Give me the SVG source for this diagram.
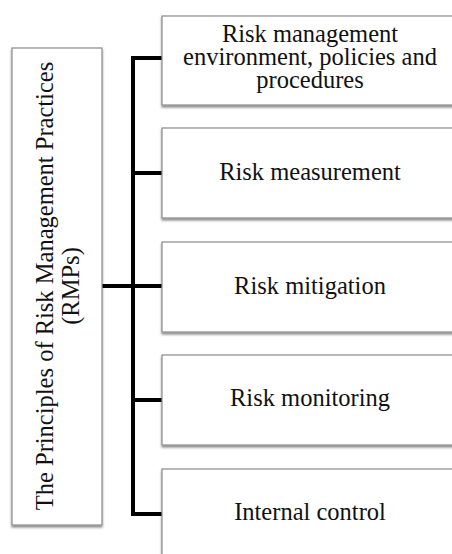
<svg xmlns="http://www.w3.org/2000/svg" width="452" height="554" viewBox="0 0 452 554">
<defs>
<filter id="sh" x="-10%" y="-10%" width="120%" height="130%">
<feDropShadow dx="0" dy="2" stdDeviation="1.3" flood-color="#000" flood-opacity="0.45"/>
</filter>
<style>
.box{fill:#fff;stroke:#8a8a8a;stroke-width:1.2;filter:url(#sh)}
.t{font-family:"Liberation Serif","Times New Roman",serif;font-size:24.5px;fill:#111;text-anchor:middle}
.c{fill:none;stroke:#000;stroke-width:4;stroke-linecap:square;stroke-linejoin:miter}
</style>
</defs>
<rect width="452" height="554" fill="#fff"/>
<g id="connectors">
<path class="c" d="M162,58 H133 V514 H162"/>
<path class="c" d="M133,173 H162"/>
<path class="c" d="M133,400 H162"/>
<path class="c" d="M103,286 H162"/>
</g>
<g id="root">
<rect class="box" x="12" y="48" width="90" height="477"/>
<text class="t" transform="translate(57,286) rotate(-90)"><tspan x="0" y="-4">The Principles of Risk Management Practices</tspan><tspan x="0" y="22">(RMPs)</tspan></text>
</g>
<g id="n1">
<rect class="box" x="162" y="16" width="300" height="89"/>
<text class="t"><tspan x="310" y="42">Risk management</tspan><tspan x="310" y="65">environment, policies and</tspan><tspan x="310" y="88">procedures</tspan></text>
</g>
<g id="n2">
<rect class="box" x="162" y="128" width="300" height="90"/>
<text class="t" x="310" y="180">Risk measurement</text>
</g>
<g id="n3">
<rect class="box" x="162" y="242" width="300" height="90"/>
<text class="t" x="310" y="294">Risk mitigation</text>
</g>
<g id="n4">
<rect class="box" x="162" y="355" width="300" height="90"/>
<text class="t" x="310" y="406">Risk monitoring</text>
</g>
<g id="n5">
<rect class="box" x="162" y="469" width="300" height="90"/>
<text class="t" x="310" y="520">Internal control</text>
</g>
</svg>
